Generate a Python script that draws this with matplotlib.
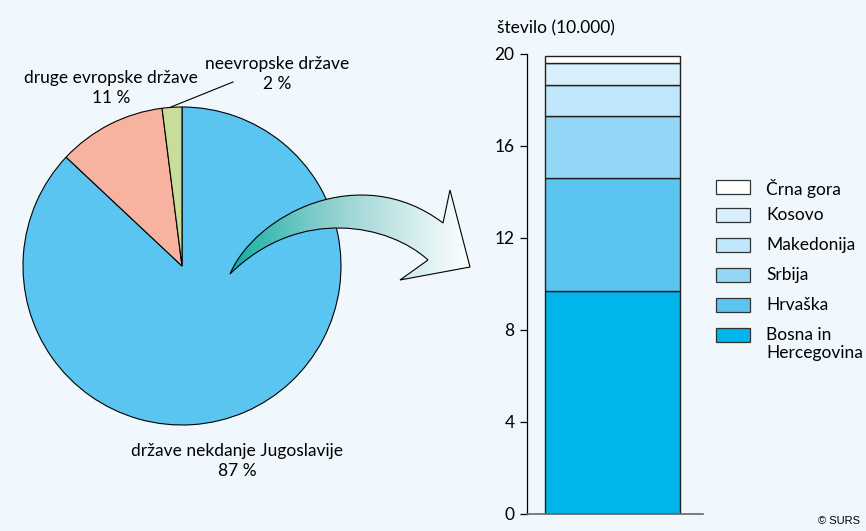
import numpy as np
import matplotlib
matplotlib.use('Agg')
import matplotlib.pyplot as plt
from matplotlib.path import Path
from matplotlib.patches import PathPatch, Rectangle

plt.rcParams['font.family'] = ['Lato', 'DejaVu Sans']

# pie data
pie_labels = ['države nekdanje Jugoslavije', 'druge evropske države', 'neevropske države']
pie_values = [87, 11, 2]
pie_colors = ['#5bc5f1', '#f7b2a0', '#c9dd98']

# stacked bar data (10.000)
countries = ['Bosna in\nHercegovina', 'Hrvaška', 'Srbija', 'Makedonija', 'Kosovo', 'Črna gora']
counts = [9.70, 4.91, 2.69, 1.35, 0.96, 0.30]
bar_colors = ['#00b5ec', '#5ac5f1', '#93d6f6', '#bfe6fa', '#d8effc', '#ffffff']
yticks = [0, 4, 8, 12, 16, 20]

BG = '#f0f8fe'
W, H = 866, 531

fig = plt.figure(figsize=(W / 100, H / 100), dpi=100, facecolor=BG)

# overlay in pixel coords for texts and arrow
ov = fig.add_axes([0, 0, 1, 1], zorder=0)
ov.set_xlim(0, W)
ov.set_ylim(H, 0)
ov.axis('off')

# pie
cx, cy, r = 182, 266, 159
axp = fig.add_axes([(cx - r) / W, (H - cy - r) / H, 2 * r / W, 2 * r / H], zorder=1)
axp.pie(pie_values, colors=pie_colors, startangle=90, counterclock=False,
        wedgeprops=dict(edgecolor='black', linewidth=0.8))
axp.set_xlim(-1, 1)
axp.set_ylim(-1, 1)
axp.axis('off')

fs = 12.5
ls = 1.25
ov.text(111, 88, f'{pie_labels[1]}\n{pie_values[1]} %', ha='center', va='center', fontsize=fs, linespacing=ls)
ov.text(277, 74, f'{pie_labels[2]}\n{pie_values[2]} %', ha='center', va='center', fontsize=fs, linespacing=ls)
ov.text(237, 461, f'{pie_labels[0]}\n{pie_values[0]} %', ha='center', va='center', fontsize=fs, linespacing=ls)
ov.plot([233, 171], [82, 107], color='black', lw=0.8, zorder=5)

# curved arrow with gradient
verts = [(230, 274), (255, 215), (360, 160), (443, 223),
         (450, 190), (470, 267), (400, 280), (428, 260),
         (390, 225), (300, 205), (230, 274)]
codes = [Path.MOVETO, Path.CURVE4, Path.CURVE4, Path.CURVE4,
         Path.LINETO, Path.LINETO, Path.LINETO, Path.LINETO,
         Path.CURVE4, Path.CURVE4, Path.CURVE4]
arrow_path = Path(verts, codes)
ova = fig.add_axes([0, 0, 1, 1], zorder=2)
ova.set_xlim(0, W)
ova.set_ylim(H, 0)
ova.axis('off')
patch = PathPatch(arrow_path, facecolor='none', edgecolor='black', lw=0.8, zorder=3)
ova.add_patch(patch)
grad = np.linspace(0, 1, 256).reshape(1, -1) ** 0.8
cmap = matplotlib.colors.LinearSegmentedColormap.from_list('ar', ['#00a99d', '#8fd0cf', '#ffffff'])
im = ova.imshow(grad, cmap=cmap, extent=[228, 472, 282, 185], aspect='auto', zorder=2)
im.set_clip_path(patch)
ova.set_xlim(0, W)
ova.set_ylim(H, 0)

# stacked bar
axb = fig.add_axes([527 / W, (H - 514) / H, 176 / W, 460 / H], zorder=1)
axb.set_facecolor('none')
bottom = 0
for v, c in zip(counts, bar_colors):
    axb.bar(0.486, v, width=0.767, bottom=bottom, color=c, edgecolor='#222222', linewidth=1.0)
    bottom += v
axb.set_xlim(0, 1)
axb.set_ylim(0, 20)
axb.set_yticks(yticks)
axb.set_xticks([])
axb.tick_params(axis='y', length=5, width=0.9, labelsize=fs, pad=4)
for s in ['top', 'right']:
    axb.spines[s].set_visible(False)
axb.spines['left'].set_linewidth(0.9)
axb.spines['bottom'].set_color('#666666')
axb.spines['bottom'].set_linewidth(1.2)
ov.text(497, 28, 'število (10.000)', ha='left', va='center', fontsize=fs)

# legend
ys = [187, 215, 245, 275, 305, 335]
for lab, c, y in zip(countries, bar_colors, ys[::-1]):
    ov.add_patch(Rectangle((716, y - 7), 34, 14, facecolor=c, edgecolor='#333333', lw=0.9))
    ov.text(766, y - 8, lab, ha='left', va='top', fontsize=fs, linespacing=1.15)

ov.text(860, 521, '© SURS', ha='right', va='center', fontsize=8, family='Liberation Sans')

fig.savefig('out.png', dpi=100, facecolor=BG)
